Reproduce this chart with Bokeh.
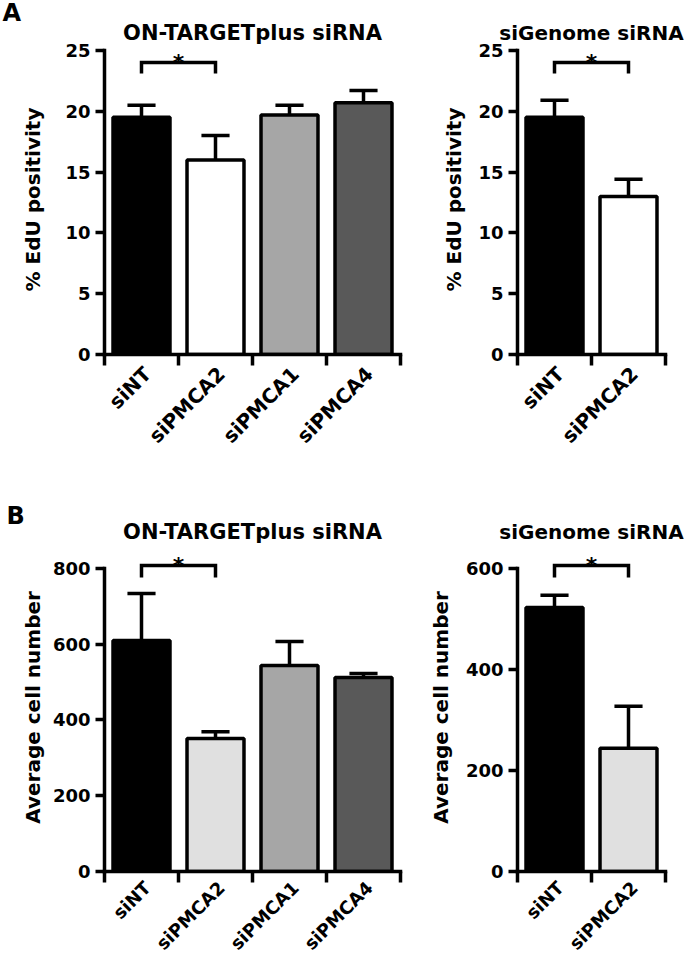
import math
from bokeh.plotting import figure
from bokeh.models import FixedTicker, Range1d, ColumnDataSource, Title
from bokeh.layouts import row, column
from bokeh.embed import file_html
from bokeh.resources import INLINE
from bokeh.core.properties import value

# ---------------- data ----------------
otp_categories = ["siNT", "siPMCA2", "siPMCA1", "siPMCA4"]
sig_categories = ["siNT", "siPMCA2"]

edu_otp_mean = [19.5, 16.0, 19.7, 20.7]
edu_otp_err = [1.0, 2.0, 0.8, 1.0]
edu_sig_mean = [19.5, 13.0]
edu_sig_err = [1.4, 1.4]

cells_otp_mean = [610, 351, 544, 512]
cells_otp_err = [124, 18, 63, 11]
cells_sig_mean = [523, 244]
cells_sig_err = [24, 83]

edu_ticks = [0, 5, 10, 15, 20, 25]
cells_otp_ticks = [0, 200, 400, 600, 800]
cells_sig_ticks = [0, 200, 400, 600]

# significance bracket: [leg bottom, bracket level]
edu_bracket = [23.1, 24.0]
cells_otp_bracket = [776, 808]
cells_sig_bracket = [582, 606]

colors_a_otp = ["#000000", "#ffffff", "#a6a6a6", "#595959"]
colors_a_sig = ["#000000", "#ffffff"]
colors_b_otp = ["#000000", "#e0e0e0", "#a6a6a6", "#595959"]
colors_b_sig = ["#000000", "#e0e0e0"]

FONT = "DejaVu Sans"
LW = 3.5
BAR_W = 0.77
CAP = 0.19
LABEL_SHIFT = 0.08


def style_title(t, size, align):
    t.align = align
    t.text_font = FONT
    t.text_font_style = "bold"
    t.text_font_size = size
    t.text_color = "black"


def panel(cats, means, errs, colors, ticks, bracket, title, ylabel,
          width, height, borders, y_end, ylabel_standoff, xlabel_standoff,
          xlabel_size, title_size="21px", letter=None, letter_offset=0,
          letter_standoff=0):
    n = len(cats)
    left, right, top, bottom = borders
    p = figure(width=width, height=height, x_range=Range1d(0, n),
               y_range=Range1d(0, y_end), output_backend="svg",
               toolbar_location=None, min_border_left=left,
               min_border_right=right, min_border_top=top,
               min_border_bottom=bottom)
    p.outline_line_color = None
    p.grid.visible = False
    p.background_fill_color = "white"
    p.border_fill_color = "white"

    xs = [i + 0.5 for i in range(n)]
    tops = [m + e for m, e in zip(means, errs)]
    src = ColumnDataSource(dict(x=xs, mean=means, top=tops, color=colors,
                                cx0=[x - CAP for x in xs],
                                cx1=[x + CAP for x in xs]))
    p.segment(x0="x", y0="mean", x1="x", y1="top", source=src,
              line_color="black", line_width=LW)
    p.segment(x0="cx0", y0="top", x1="cx1", y1="top", source=src,
              line_color="black", line_width=LW)
    p.vbar(x="x", top="mean", bottom=0, width=BAR_W, source=src,
           fill_color="color", line_color="black", line_width=LW)

    # significance bracket
    p.line(x=[xs[0], xs[0], xs[1], xs[1]],
           y=[bracket[0], bracket[1], bracket[1], bracket[0]],
           line_color="black", line_width=LW, line_join="miter")
    p.text(x=[(xs[0] + xs[1]) / 2], y=[bracket[1]], text=["*"],
           text_font=value(FONT), text_font_style="bold",
           text_font_size="22px", text_align="center",
           text_baseline="alphabetic", text_color="black")

    # x axis
    xa = p.xaxis[0]
    xa.ticker = FixedTicker(ticks=[x + LABEL_SHIFT for x in xs],
                            minor_ticks=list(range(n + 1)))
    xa.major_label_overrides = {x + LABEL_SHIFT: c for x, c in zip(xs, cats)}
    xa.major_tick_out = 0
    xa.major_tick_in = 0
    xa.major_tick_line_color = None
    xa.minor_tick_out = 11
    xa.minor_tick_in = 0
    xa.minor_tick_line_width = LW
    xa.minor_tick_line_color = "black"
    xa.axis_line_width = LW
    xa.axis_line_color = "black"
    xa.axis_line_cap = "square"
    xa.major_label_orientation = math.pi / 4
    xa.major_label_standoff = xlabel_standoff
    xa.major_label_text_font = FONT
    xa.major_label_text_font_style = "bold"
    xa.major_label_text_font_size = xlabel_size
    xa.major_label_text_color = "black"

    # y axis
    ya = p.yaxis[0]
    ya.ticker = FixedTicker(ticks=ticks)
    ya.bounds = (ticks[0], ticks[-1])
    ya.major_tick_out = 9
    ya.major_tick_in = 0
    ya.major_tick_line_width = LW
    ya.major_tick_line_color = "black"
    ya.minor_tick_out = 0
    ya.minor_tick_in = 0
    ya.axis_line_width = LW
    ya.axis_line_color = "black"
    ya.axis_line_cap = "square"
    ya.major_label_standoff = 5
    ya.major_label_text_font = FONT
    ya.major_label_text_font_style = "bold"
    ya.major_label_text_font_size = "18px"
    ya.major_label_text_color = "black"
    ya.axis_label = ylabel
    ya.axis_label_text_font = FONT
    ya.axis_label_text_font_style = "bold"
    ya.axis_label_text_font_size = "20px"
    ya.axis_label_text_color = "black"
    ya.axis_label_standoff = ylabel_standoff

    if letter:
        # panel letter as outermost title, caption just above the frame
        p.title.text = letter
        style_title(p.title, "24px", "left")
        p.title.offset = letter_offset
        p.title.standoff = letter_standoff
        cap = Title(text=title)
        style_title(cap, title_size, "center")
        cap.standoff = 0
        p.add_layout(cap, "above")
    else:
        p.title.text = title
        style_title(p.title, title_size, "center")
        p.title.standoff = 0
    return p


f1 = panel(otp_categories, edu_otp_mean, edu_otp_err, colors_a_otp, edu_ticks,
           edu_bracket, "ON-TARGETplus siRNA", "% EdU positivity",
           420, 460, (104, 20, 44, 106), 25.49, 17, 5, "20px", "21px",
           "A", -102, -16)
f2 = panel(sig_categories, edu_sig_mean, edu_sig_err, colors_a_sig, edu_ticks,
           edu_bracket, "siGenome siRNA", "% EdU positivity",
           265, 460, (97, 20, 44, 106), 25.49, 9, 5, "20px", "20px")
f3 = panel(otp_categories, cells_otp_mean, cells_otp_err, colors_b_otp,
           cells_otp_ticks, cells_otp_bracket, "ON-TARGETplus siRNA",
           "Average cell number",
           420, 505, (104, 20, 83, 94), 866.0, 5, 2, "18px", "21px",
           "B", -98, -24)
f4 = panel(sig_categories, cells_sig_mean, cells_sig_err, colors_b_sig,
           cells_sig_ticks, cells_sig_bracket, "siGenome siRNA",
           "Average cell number",
           265, 505, (97, 20, 83, 94), 649.5, 10, 2, "18px", "20px")

layout = column(row(f1, f2), row(f3, f4))
open("out.html", "w").write(file_html(layout, INLINE))
